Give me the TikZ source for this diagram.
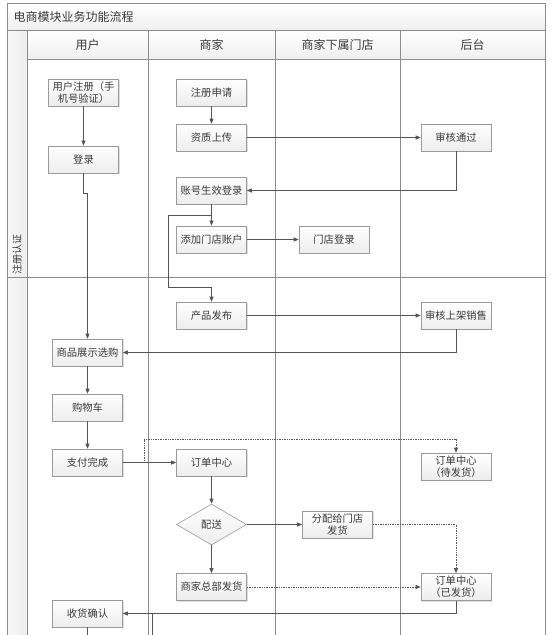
\documentclass[tikz,border=0pt]{standalone}
\usepackage{fontspec}
\setmainfont{Noto Sans CJK SC}
\usetikzlibrary{arrows.meta,shapes.geometric,shadows}
\definecolor{txt}{HTML}{3A3A3A}
\definecolor{ln}{HTML}{555555}
\definecolor{bd}{HTML}{9A9A9A}
\definecolor{frm}{HTML}{8C8C8C}
\begin{document}
\begin{tikzpicture}[x=1pt,y=-1pt,
  box/.style={draw=bd,line width=0.6pt,top color=white,bottom color=gray!14,
    minimum width=70,minimum height=27,inner sep=1pt,align=center,
    text=txt,font=\fontsize{10.3}{12}\selectfont,
    drop shadow={shadow xshift=1pt,shadow yshift=-1pt,opacity=0.25,fill=gray}},
  dia/.style={diamond,draw=bd,line width=0.6pt,top color=white,bottom color=gray!14,
    minimum width=70,minimum height=41,inner sep=0pt,text=txt,
    font=\fontsize{10.3}{12}\selectfont},
  arr/.style={draw=ln,line width=0.7pt,-{Triangle[length=5pt,width=4pt]}},
  lin/.style={draw=ln,line width=0.7pt},
  dot/.style={draw=ln,line width=0.7pt,densely dotted,-{Triangle[length=5pt,width=4pt]}},
  frame/.style={draw=frm,line width=0.6pt},
  head/.style={text=txt,font=\fontsize{12}{14}\selectfont}]
\useasboundingbox (0,0) rectangle (554,635);
\fill[white] (0,0) rectangle (554,635);
% title bar and header
\shade[top color=white,bottom color=gray!12] (7,3) rectangle (545,30);
\shade[top color=white,bottom color=gray!12] (27,30) rectangle (545,59);
\shade[left color=gray!6,right color=gray!14] (7,30) rectangle (27,640);
\draw[frame] (7,640) -- (7,3) -- (545,3) -- (545,640);
\draw[frame] (7,30) -- (545,30);
\draw[frame] (27,59) -- (545,59);
\draw[frame] (27,30) -- (27,640);
\draw[frame] (148,30) -- (148,640);
\draw[frame] (275,30) -- (275,640);
\draw[frame] (400,30) -- (400,640);
\draw[frame] (7,277) -- (545,277);
\node[head,anchor=west] (title) at (10,16.5) {电商模块业务功能流程};
\node[head] (h1) at (87.5,44.5) {用户};
\node[head] (h2) at (211.5,44.5) {商家};
\node[head] (h3) at (337.5,44.5) {商家下属门店};
\node[head] (h4) at (472.5,44.5) {后台};
\node[text=txt,font=\fontsize{10}{11}\selectfont,rotate=90] (lane1) at (17,254) {注册认证};
% nodes
\node[box] (zc) at (83.5,92.5) {用户注册（手\\机号验证）};
\node[box] (dl) at (83.5,159.5) {登录};
\node[box] (sq) at (211.5,92.5) {注册申请};
\node[box] (zz) at (211.5,137.5) {资质上传};
\node[box] (tg) at (456,137.5) {审核通过};
\node[box] (zh) at (211.5,190.5) {账号生效登录};
\node[box] (tj) at (211.5,239.5) {添加门店账户};
\node[box] (md) at (334,239.5) {门店登录};
\node[box] (cp) at (211.5,315.5) {产品发布};
\node[box] (sj) at (456,315.5) {审核上架销售};
\node[box] (sp) at (87.5,352.5) {商品展示选购};
\node[box] (gw) at (87.5,407.5) {购物车};
\node[box] (zf) at (87.5,462.5) {支付完成};
\node[box] (dd) at (211.5,462.5) {订单中心};
\node[box] (df) at (456,466.5) {订单中心\\（待发货）};
\node[dia] (ps) at (211.5,524.5) {配送};
\node[box] (fp) at (337.5,524.5) {分配给门店\\发货};
\node[box] (zb) at (211.5,587) {商家总部发货};
\node[box] (yf) at (456,587) {订单中心\\（已发货）};
\node[box] (sh) at (87.5,613.5) {收货确认};
% connectors
\draw[arr] (zc) -- (dl);
\draw[arr] (dl.south) -- (83.5,193) -- (87.5,193) -- (sp.north);
\draw[arr] (sq) -- (zz);
\draw[arr] (zz) -- (tg);
\draw[arr] (tg.south) |- (zh.east);
\draw[arr] (zh) -- (tj);
\coordinate (b1) at (211.5,215);
\draw[arr] (b1) -| (168,287) -| (cp.north);
\draw[arr] (tj) -- (md);
\draw[arr] (cp) -- (sj);
\draw[arr] (sj.south) |- (sp.east);
\draw[arr] (sp) -- (gw);
\draw[arr] (gw) -- (zf);
\draw[arr] (zf) -- (dd);
\coordinate (d1) at (144,462.5);
\draw[dot] (d1) -- (144,439) -| (df.north);
\draw[arr] (dd) -- (ps);
\draw[arr] (ps) -- (fp);
\draw[arr] (ps) -- (zb);
\draw[dot] (fp.east) -| (yf.north);
\draw[dot] (zb) -- (yf);
\draw[arr] (yf.south) |- (sh.east);
\coordinate (e1) at (152,613.5);
\coordinate (e2) at (152,640);
\coordinate (e3) at (87.5,640);
\draw[lin] (e1) -- (e2);
\draw[lin] (sh.south) -- (e3);
\end{tikzpicture}
\end{document}
